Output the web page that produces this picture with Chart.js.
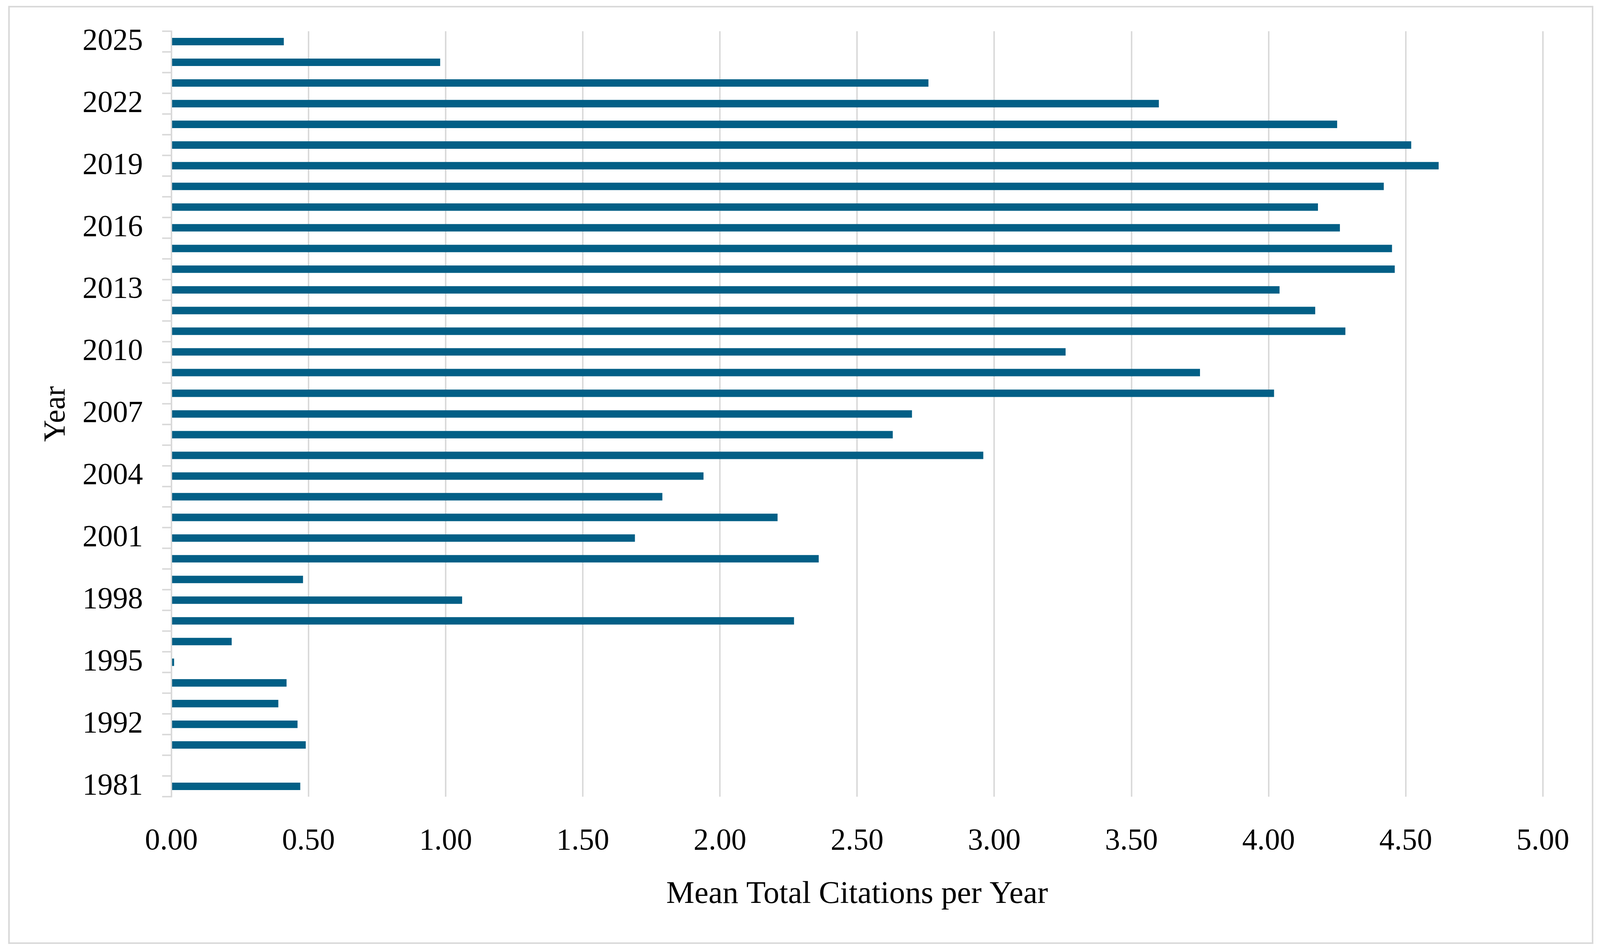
<!DOCTYPE html>
<html>
<head>
<meta charset="utf-8">
<script src="https://cdn.jsdelivr.net/npm/chart.js@4.4.1/dist/chart.umd.min.js"></script>
<style>
  html, body { margin: 0; padding: 0; background: #ffffff; overflow: hidden; }
  #frame { position: absolute; box-sizing: border-box; border-style: solid; border-color: #d9d9d9; }
  #wrap { position: absolute; left: 0; top: 0; }
  canvas { display: block; }
</style>
</head>
<body>
<div id="frame"></div>
<div id="wrap"><canvas id="c"></canvas></div>
<script>
// Categories (top to bottom)
const years = ['2025','2024','2023','2022','2021','2020','2019','2018','2017','2016',
               '2015','2014','2013','2012','2011','2010','2009','2008','2007','2006',
               '2005','2004','2003','2002','2001','2000','1999','1998','1997','1996',
               '1995','1994','1993','1992','1991','1990','1981'];
// Mean total citations per year
const meanTCperYear = [0.41, 0.98, 2.76, 3.60, 4.25, 4.52, 4.62, 4.42, 4.18, 4.26,
                       4.45, 4.46, 4.04, 4.17, 4.28, 3.26, 3.75, 4.02, 2.70, 2.63,
                       2.96, 1.94, 1.79, 2.21, 1.69, 2.36, 0.48, 1.06, 2.27, 0.22,
                       0.01, 0.42, 0.39, 0.46, 0.49, null, 0.47];
// Year labels shown on the axis
const yTickLabels = ['2025','2022','2019','2016','2013','2010','2007','2004','2001','1998','1995','1992','1981'];
// Value axis ticks
const xTickValues = [0, 0.5, 1, 1.5, 2, 2.5, 3, 3.5, 4, 4.5, 5];

const W = window.innerWidth || 4342;
const H = window.innerHeight || 2430;
const sx = W / 4342, sy = H / 2430, sf = Math.min(sx, sy);
const X = v => v * sx, Y = v => v * sy, F = v => v * sf;

const frame = document.getElementById('frame');
frame.style.left = X(22) + 'px';
frame.style.top = Y(15) + 'px';
frame.style.width = X(4342 - 22 - 18) + 'px';
frame.style.height = Y(2430 - 15 - 13) + 'px';
frame.style.borderWidth = Math.max(1, F(5)) + 'px';

const cv = document.getElementById('c');
cv.width = W; cv.height = H;
cv.style.width = W + 'px'; cv.style.height = H + 'px';

const FONT = "'Liberation Serif', 'Times New Roman', serif";
const GRID = '#d9d9d9';

new Chart(cv, {
  type: 'bar',
  data: {
    labels: years,
    datasets: [{
      data: meanTCperYear,
      backgroundColor: '#025f86',
      borderWidth: 0,
      categoryPercentage: 1.0,
      barPercentage: 0.36
    }]
  },
  options: {
    indexAxis: 'y',
    responsive: false,
    devicePixelRatio: 1,
    animation: false,
    layout: { padding: { left: 0, right: X(155), top: Y(80), bottom: 0 } },
    plugins: { legend: { display: false }, tooltip: { enabled: false } },
    scales: {
      x: {
        type: 'linear',
        min: 0, max: 5,
        afterBuildTicks: s => { s.ticks = xTickValues.map(v => ({ value: v })); },
        afterFit: s => { s.height = Y(390); s.paddingLeft = 0; s.paddingRight = 0; },
        ticks: {
          callback: v => Number(v).toFixed(2),
          color: '#000',
          font: { family: FONT, size: F(82) },
          padding: Y(68),
          maxRotation: 0
        },
        grid: { color: GRID, lineWidth: F(4), drawTicks: false },
        border: { display: false },
        title: {
          display: true,
          text: 'Mean Total Citations per Year',
          color: '#000',
          font: { family: FONT, size: F(86) },
          padding: { top: 0, bottom: Y(91) }
        }
      },
      y: {
        type: 'category',
        offset: true,
        afterFit: s => { s.width = X(465); s.paddingTop = 0; s.paddingBottom = 0; },
        ticks: {
          autoSkip: false,
          callback: function (val) {
            const lab = this.getLabelForValue(val);
            return yTickLabels.includes(lab) ? lab : '';
          },
          color: '#000',
          font: { family: FONT, size: F(82) },
          padding: X(52)
        },
        grid: { offset: true, drawOnChartArea: false, drawTicks: true, tickLength: X(25), color: GRID, lineWidth: F(4) },
        border: { display: true, color: GRID, width: F(4) },
        title: {
          display: true,
          text: 'Year',
          color: '#000',
          font: { family: FONT, size: F(82) },
          padding: { top: X(104), bottom: 0 }
        }
      }
    }
  }
});
</script>
</body>
</html>
